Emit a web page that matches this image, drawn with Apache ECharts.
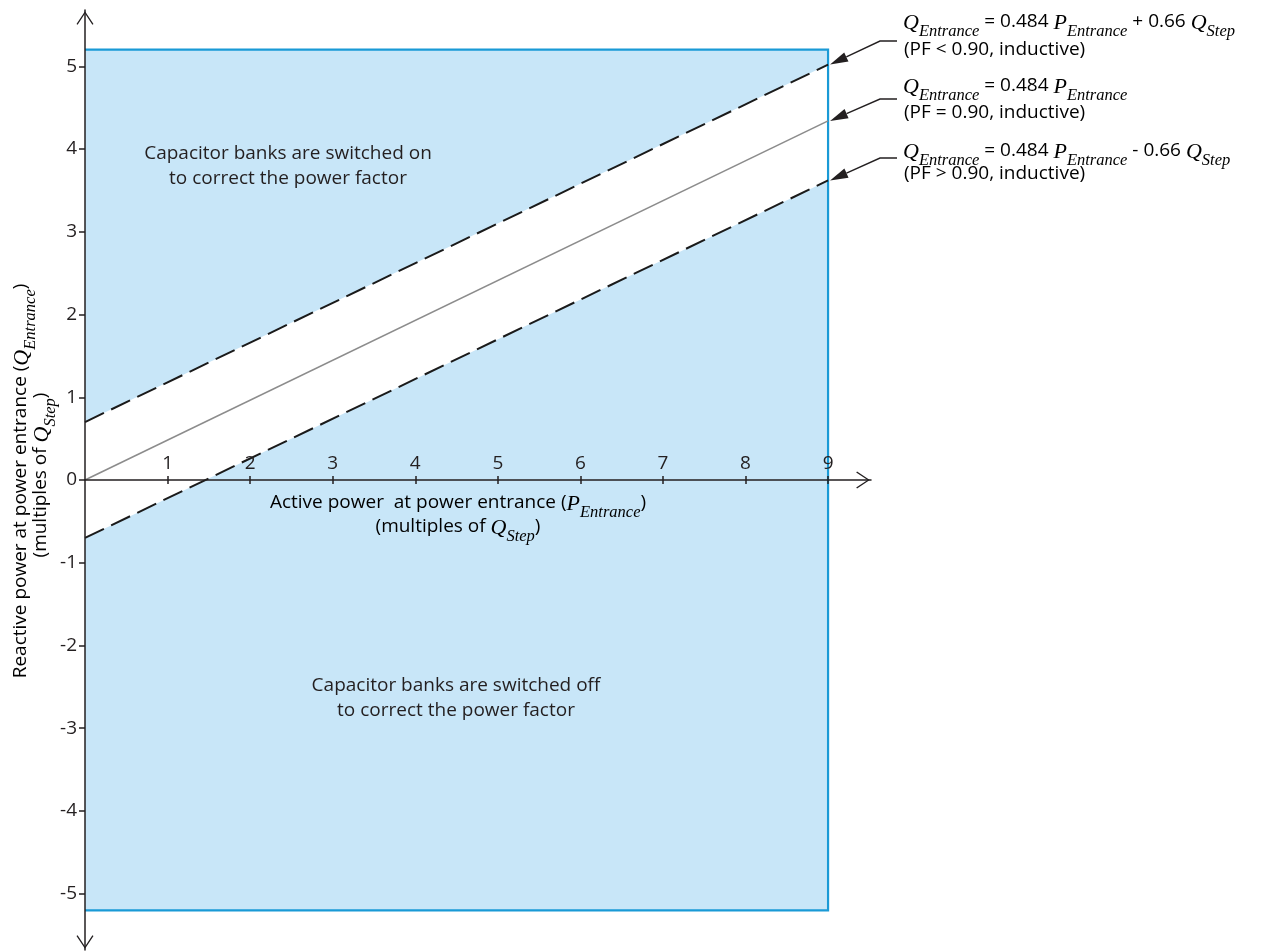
<!DOCTYPE html>
<html><head><meta charset="utf-8">
<script src="https://cdn.jsdelivr.net/npm/echarts@6/dist/echarts.min.js"></script>
<style>html,body{margin:0;padding:0;background:#fff}#c{width:1261px;height:951px}</style>
</head><body><div id="c"></div>
<script>
// ---- data ----
const xTicks = [1, 2, 3, 4, 5, 6, 7, 8, 9];
const yTicks = [-5, -4, -3, -2, -1, 0, 1, 2, 3, 4, 5];
const xEnds = [0, 9];
const upperQ = [0.70, 5.02];   // Q = 0.484 P + 0.66 Qstep  (PF < 0.90)
const middleQ = [0, 4.34];     // Q = 0.484 P               (PF = 0.90)
const lowerQ = [-0.70, 3.62];  // Q = 0.484 P - 0.66 Qstep  (PF > 0.90)
const regionX = [0, 9];
const regionY = [-5.2, 5.2];
const axisXRange = [0, 9.52];
const axisYRange = [-5.68, 5.68];
const eqLines = [
  '{q|Q}{s|Entrance}{n| = 0.484 }{q|P}{s|Entrance}{n| + 0.66 }{q|Q}{s|Step}',
  '{q|Q}{s|Entrance}{n| = 0.484 }{q|P}{s|Entrance}',
  '{q|Q}{s|Entrance}{n| = 0.484 }{q|P}{s|Entrance}{n| - 0.66 }{q|Q}{s|Step}'
];
const pfLines = ['(PF < 0.90, inductive)', '(PF = 0.90, inductive)', '(PF > 0.90, inductive)'];
const regionTextOn = 'Capacitor banks are switched on\nto correct the power factor';
const regionTextOff = 'Capacitor banks are switched off\nto correct the power factor';
const xName = ['{n|Active power  at power entrance (}{q|P}{s|Entrance}{n|)}', '{n|(multiples of }{q|Q}{s|Step}{n|)}'];
const yName = ['{n|Reactive power at power entrance (}{q|Q}{s|Entrance}{n|)}', '{n|(multiples of }{q|Q}{s|Step}{n|)}'];

// ---- style ----
const INK = '#231f20';
const SANS = '"Open Sans", "Noto Sans", sans-serif';
const SERIF = '"Liberation Serif", "DejaVu Serif", serif';
const FS = 19;
const rich = {
  n: { fontFamily: SANS, fontSize: FS, lineHeight: 24, verticalAlign: 'top', color: INK },
  q: { fontFamily: SERIF, fontStyle: 'italic', fontSize: 22, lineHeight: 24, verticalAlign: 'top', color: INK },
  s: { fontFamily: SERIF, fontStyle: 'italic', fontSize: 16.5, lineHeight: 17, padding: [11, 0, 0, 0], verticalAlign: 'top', color: INK }
};
const chevron = 'path://M10,0 L20,15 L18.7,16 L10,2.6 L1.3,16 L0,15 Z';

const chart = echarts.init(document.getElementById('c'), null, { renderer: 'canvas' });

const lineSeries = (name, vals, style) => ({
  name, type: 'line', z: 4, showSymbol: false, symbol: 'none', silent: true,
  data: xEnds.map((x, i) => [x, vals[i]]),
  lineStyle: style
});

const regionRender = (withFill) => function (params, api) {
  const tl = api.coord([api.value(0), api.value(3)]);
  const br = api.coord([api.value(2), api.value(1)]);
  if (withFill) {
    return { type: 'rect', shape: { x: tl[0], y: tl[1], width: br[0] - tl[0], height: br[1] - tl[1] },
      style: { fill: '#c8e6f8' } };
  }
  return { type: 'polyline', shape: { points: [[tl[0], tl[1]], [br[0], tl[1]], [br[0], br[1]], [tl[0], br[1]]] },
    style: { stroke: '#1a9ad6', lineWidth: 2.2, fill: null } };
};

chart.setOption({
  animation: false,
  backgroundColor: '#ffffff',
  grid: { left: 85, right: 390, top: 10, bottom: 1, containLabel: false },
  xAxis: [{
    type: 'value', min: axisXRange[0], max: axisXRange[1], position: 'bottom', z: 10,
    axisLine: { onZero: false, symbol: ['none', chevron], symbolSize: [17, 16], symbolOffset: [0, -8],
      lineStyle: { color: INK, width: 1.5 } },
    axisTick: { show: true, inside: false, length: 4, customValues: xTicks, lineStyle: { color: INK, width: 1.5 } },
    axisLabel: { show: true, inside: true, margin: 7, customValues: xTicks, fontFamily: SANS, fontSize: FS, color: INK },
    splitLine: { show: false }
  }, {
    type: 'value', min: axisXRange[0], max: axisXRange[1], position: 'top', z: 10,
    axisLine: { show: false, onZero: false },
    axisTick: { show: true, inside: false, length: 4, customValues: xTicks, lineStyle: { color: INK, width: 1.5 } },
    axisLabel: { show: false },
    splitLine: { show: false }
  }],
  yAxis: {
    type: 'value', min: axisYRange[0], max: axisYRange[1], z: 10,
    axisLine: { onZero: false, symbol: [chevron, chevron], symbolSize: [17, 16], symbolOffset: [8, -8],
      lineStyle: { color: INK, width: 1.5 } },
    axisTick: { show: true, inside: false, length: 6, customValues: yTicks, lineStyle: { color: INK, width: 1.5 } },
    axisLabel: { show: true, margin: 8, customValues: yTicks, fontFamily: SANS, fontSize: FS, color: INK },
    splitLine: { show: false }
  },
  series: [
    { name: 'region', type: 'custom', z: 1, silent: true,
      data: [[regionX[0], regionY[0], regionX[1], regionY[1]]], renderItem: regionRender(true) },
    {
      name: 'band', type: 'custom', z: 2, silent: true,
      data: [[xEnds[0], upperQ[0], xEnds[1], upperQ[1], lowerQ[1], lowerQ[0]]],
      renderItem: function (params, api) {
        const pts = [
          api.coord([api.value(0), api.value(1)]),
          api.coord([api.value(2), api.value(3)]),
          api.coord([api.value(2), api.value(4)]),
          api.coord([api.value(0), api.value(5)])
        ];
        return { type: 'polygon', shape: { points: pts }, style: { fill: '#ffffff' } };
      }
    },
    { name: 'regionBorder', type: 'custom', z: 3, silent: true,
      data: [[regionX[0], regionY[0], regionX[1], regionY[1]]], renderItem: regionRender(false) },
    lineSeries('PF < 0.90', upperQ, { color: '#1a1a1a', width: 2, type: [21, 8] }),
    lineSeries('PF = 0.90', middleQ, { color: '#8c8c8c', width: 1.6, type: 'solid' }),
    lineSeries('PF > 0.90', lowerQ, { color: '#1a1a1a', width: 2, type: [21, 8] })
  ]
});

// place the x axes on y = 0
const zeroY = chart.convertToPixel({ yAxisIndex: 0 }, 0);
const bottomY = chart.convertToPixel({ yAxisIndex: 0 }, axisYRange[0]);
const topY = chart.convertToPixel({ yAxisIndex: 0 }, axisYRange[1]);
chart.setOption({ xAxis: [{ offset: zeroY - bottomY }, { offset: topY - zeroY }] });

// ---- annotations ----
const graphics = [];
const eqTops = [12.5, 76, 141];
const pfTops = [40, 103, 164];
const elbowsY = [41, 99, 158];
const ends = [upperQ[1], middleQ[1], lowerQ[1]];
ends.forEach((q, i) => {
  const tip = chart.convertToPixel({ xAxisIndex: 0, yAxisIndex: 0 }, [xEnds[1], q]);
  const P = [tip[0] + 2, tip[1]];
  const E = [880, elbowsY[i]];
  const T = [897, elbowsY[i]];
  const dx = P[0] - E[0], dy = P[1] - E[1];
  const len = Math.sqrt(dx * dx + dy * dy);
  const d = [dx / len, dy / len];
  const nrm = [-d[1], d[0]];
  const L = 18, W = 5;
  const B = [P[0] - d[0] * L, P[1] - d[1] * L];
  graphics.push({ type: 'polyline', z: 100, shape: { points: [T, E, B] }, style: { stroke: INK, lineWidth: 1.4, fill: null } });
  graphics.push({ type: 'polygon', z: 100, shape: { points: [P, [B[0] + nrm[0] * W, B[1] + nrm[1] * W], [B[0] - nrm[0] * W, B[1] - nrm[1] * W]] },
    style: { fill: INK } });
  graphics.push({ type: 'text', z: 100, x: 903, y: eqTops[i], style: { text: eqLines[i], rich, align: 'left', verticalAlign: 'top' } });
  graphics.push({ type: 'text', z: 100, x: 904, y: pfTops[i], style: { text: '{n|' + pfLines[i] + '}', rich, align: 'left', verticalAlign: 'top' } });
});
graphics.push({ type: 'text', z: 100, x: 288, y: 166, style: { text: regionTextOn, font: FS + 'px ' + SANS, fill: INK, align: 'center', verticalAlign: 'middle', lineHeight: 25.5 } });
graphics.push({ type: 'text', z: 100, x: 456, y: 698, style: { text: regionTextOff, font: FS + 'px ' + SANS, fill: INK, align: 'center', verticalAlign: 'middle', lineHeight: 25.5 } });
graphics.push({ type: 'text', z: 100, x: 458, y: 493, style: { text: xName[0], rich, align: 'center', verticalAlign: 'top' } });
graphics.push({ type: 'text', z: 100, x: 458, y: 517, style: { text: xName[1], rich, align: 'center', verticalAlign: 'top' } });
graphics.push({ type: 'text', z: 100, x: 23, y: 481, rotation: Math.PI / 2, style: { text: yName[0], rich, align: 'center', verticalAlign: 'middle' } });
graphics.push({ type: 'text', z: 100, x: 43, y: 475, rotation: Math.PI / 2, style: { text: yName[1], rich, align: 'center', verticalAlign: 'middle' } });
chart.setOption({ graphic: graphics });
</script>
</body></html>
